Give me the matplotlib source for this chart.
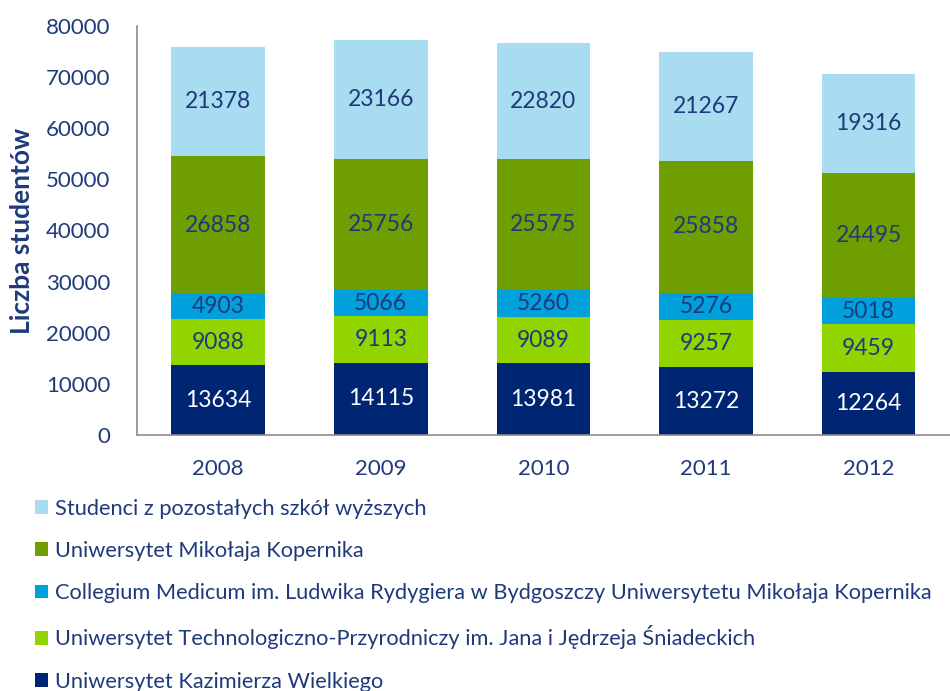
import matplotlib.pyplot as plt
import numpy as np

plt.rcParams['font.family'] = ['Lato', 'DejaVu Sans']

years = ["2008", "2009", "2010", "2011", "2012"]
ukw = [13634, 14115, 13981, 13272, 12264]
utp = [9088, 9113, 9089, 9257, 9459]
cm = [4903, 5066, 5260, 5276, 5018]
umk = [26858, 25756, 25575, 25858, 24495]
other = [21378, 23166, 22820, 21267, 19316]

names = [
    "Uniwersytet Kazimierza Wielkiego",
    "Uniwersytet Technologiczno-Przyrodniczy im. Jana i Jędrzeja Śniadeckich",
    "Collegium Medicum im. Ludwika Rydygiera w Bydgoszczy Uniwersytetu Mikołaja Kopernika",
    "Uniwersytet Mikołaja Kopernika",
    "Studenci z pozostałych szkół wyższych",
]
series = [ukw, utp, cm, umk, other]
colors = ["#002673", "#92D400", "#00A0DC", "#6E9E00", "#A8DCF0"]
text_colors = ["white", "#1F3A7A", "#1F3A7A", "#1F3A7A", "#1F3A7A"]
navy = "#1F3A7A"

fig = plt.figure(figsize=(9.5, 6.91), dpi=100)
ax = fig.add_axes([0.144, 0.3705, 0.856, 0.592])

x = np.arange(len(years))
bottom = np.zeros(len(years))
bars = []
for vals, col, tc, name in zip(series, colors, text_colors, names):
    b = ax.bar(x, vals, 0.575, bottom=bottom, color=col, label=name)
    for xi, v, b0 in zip(x, vals, bottom):
        ax.text(xi, b0 + v / 2, str(v), ha="center", va="center",
                fontsize=16.5, color=tc)
    bars.append(b)
    bottom += np.array(vals)

ax.set_xlim(-0.5, 4.5)
ax.set_ylim(0, 80000)
ax.set_yticks(range(0, 80001, 10000))
ax.set_xticks(x)
ax.set_xticklabels(years)
ax.tick_params(axis="both", length=0, labelsize=16, labelcolor=navy)
ax.tick_params(axis="x", pad=17)
ax.tick_params(axis="y", pad=19)
for s in ["top", "right"]:
    ax.spines[s].set_visible(False)
for s in ["left", "bottom"]:
    ax.spines[s].set_color("#8C8C8C")
    ax.spines[s].set_linewidth(1.2)
ax.set_ylabel("Liczba studentów", fontsize=19, fontweight="bold", color=navy)
ax.yaxis.set_label_coords(-0.126, 0.5)

fig.legend(bars[::-1], names[::-1], loc="upper left",
           bbox_to_anchor=(0.028, 0.291), frameon=False, fontsize=15.7,
           labelcolor=navy, handlelength=0.6, handleheight=0.6,
           handletextpad=0.3, labelspacing=1.02, borderaxespad=0)

fig.savefig("out.png", dpi=100)
